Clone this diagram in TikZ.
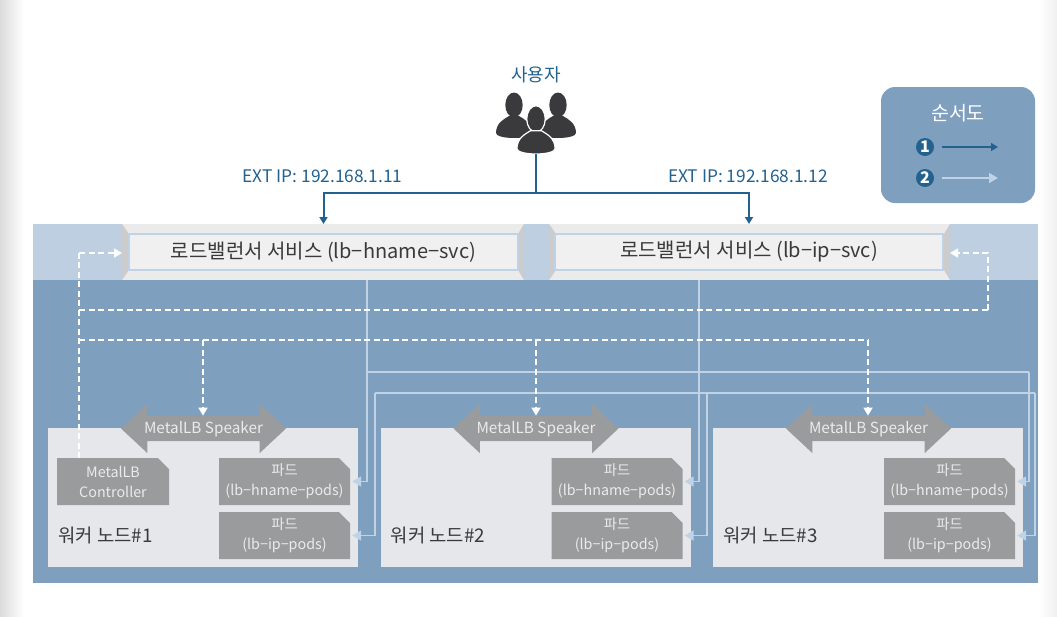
\documentclass[tikz,border=0pt]{standalone}
\usepackage{fontspec}
\setmainfont{Noto Sans CJK KR}
\usetikzlibrary{arrows.meta,shapes.arrows,shapes.misc}

\definecolor{bandblue}{HTML}{7F9FBF}
\definecolor{paleblue}{HTML}{BDCFE0}
\definecolor{lineblue}{HTML}{BFD2E6}
\definecolor{userblue}{HTML}{23628F}
\definecolor{podgray}{HTML}{9A9B9D}
\definecolor{nodegray}{HTML}{E6E7EA}
\definecolor{darktext}{HTML}{3A3A3C}

\def\personhead{(0,0) ellipse (8.7 and 12.5)}
\def\personbody{(-18,28) .. controls (-18,18) and (-10,14) .. (-5,11) -- (5,11) .. controls (10,14) and (18,18) .. (18,28) .. controls (18,31) and (10,33) .. (0,33) .. controls (-10,33) and (-18,31) .. (-18,28) -- cycle}

\tikzset{
  svcbox/.style={draw=lineblue, line width=1.5pt, fill=black!6, minimum height=36pt, inner sep=0pt, text=darktext, font=\fontsize{20}{22}\selectfont},
  workerbox/.style={fill=nodegray, minimum width=310pt, minimum height=139pt, inner sep=0pt},
  ctrlbox/.style={chamfered rectangle, chamfered rectangle corners=north east, chamfered rectangle xsep=6pt, chamfered rectangle ysep=5pt, fill=podgray, text=black!8, minimum height=47pt, inner sep=0pt, align=center, font=\fontsize{14.3}{20}\selectfont},
  podbox/.style={ctrlbox, minimum width=131pt, execute at begin node={\rule{0pt}{21pt}}},
  speakerbox/.style={double arrow, double arrow head extend=12pt, double arrow tip angle=86, minimum height=165pt, inner xsep=0pt, inner ysep=5.5pt, text height=12pt, text depth=2pt, fill=podgray, text=black!8, font=\fontsize{15.3}{17}\selectfont},
  worklabel/.style={anchor=west, inner sep=0pt, text=darktext, font=\fontsize{18.8}{21}\selectfont},
  iplabel/.style={inner sep=0pt, text=userblue, font=\fontsize{17.3}{19}\selectfont},
  numdot/.style={circle, fill=userblue, minimum size=18pt, inner sep=0pt, text=white, font=\fontsize{16}{16}\selectfont\bfseries},
  userline/.style={draw=userblue, line width=2pt},
  userarrow/.style={userline, -{Triangle[width=8pt,length=7pt]}},
  podline/.style={draw=lineblue, line width=1.8pt},
  podarrow/.style={podline, -{Triangle[width=10pt,length=9pt]}, shorten >=2pt},
  dashline/.style={draw=white, line width=1.7pt, dash pattern=on 6pt off 3.5pt},
  dasharrow/.style={dashline, -{Triangle[width=9pt,length=8pt]}}
}

\begin{document}
\begin{tikzpicture}[x=1pt,y=-1pt]
\useasboundingbox (0,0) rectangle (1057,616);
\fill[white] (0,0) rectangle (1057,616);
\shade[left color=black!14, right color=white] (0,0) rectangle (24,616);
\shade[left color=white, right color=black!6] (1038,0) rectangle (1057,616);

% bands
\fill[paleblue] (33,224) rectangle (1038,280);
\fill[bandblue] (33,280) rectangle (1038,583);
\foreach \l/\r in {122/524,549/950} {
  \fill[black!8] (\l,224) rectangle (\r,280);
  \fill[black!20] (\l,224) -- (\l+7,234) -- (\l+7,270) -- (\l,280) -- cycle;
  \fill[black!20] (\r,224) -- (\r-6,234) -- (\r-6,270) -- (\r,280) -- cycle;
}

% load balancer services
\node[svcbox, minimum width=389pt] (hnamesvc) at (323.5,252) {로드밸런서 서비스 (lb−hname−svc)};
\node[svcbox, minimum width=388pt] (ipsvc) at (749,252) {로드밸런서 서비스 (lb−ip−svc)};

% worker nodes
\foreach \n/\xx in {1/0,2/332.5,3/665} {
  \node[workerbox] (worker\n) at (203+\xx,497.5) {};
  \node[worklabel] (worklabel\n) at (58+\xx,535) {워커 노드\#\n};
  \node[speakerbox] (speaker\n) at (203.5+\xx,428.5) {MetalLB Speaker};
  \node[podbox] (hnamepod\n) at (284.5+\xx,481.5) {파드\\(lb−hname−pods)};
  \node[podbox] (ippod\n) at (284.5+\xx,535.5) {파드\\(lb−ip−pods)};
}
\node[ctrlbox, minimum width=112pt] (controller) at (113,481.5) {MetalLB\\Controller};

% user
\node[inner sep=0pt, text=userblue, font=\fontsize{18}{20}\selectfont] (usertext) at (536,75) {사용자};
\begin{scope}[fill=darktext]
  \foreach \px/\py in {514/105,558/105} {
    \begin{scope}[shift={(\px,\py)}]
      \fill \personhead;
      \fill \personbody;
    \end{scope}
  }
  \begin{scope}[shift={(536,119)}, scale=1.06]
    \filldraw[draw=white, line width=1.2pt] \personhead;
    \filldraw[draw=white, line width=1.2pt] \personbody;
  \end{scope}
\end{scope}
\coordinate (userfoot) at (536,154);
\coordinate (userjoin) at (536,193);
\draw[userline] (userfoot) -- (userjoin);
\draw[userarrow] (userjoin) -| (hnamesvc.north |- 0,224);
\draw[userarrow] (userjoin) -| (ipsvc.north |- 0,224);
\node[iplabel] (hnameip) at (322.5,176) {EXT IP: 192.168.1.11};
\node[iplabel] (ipip) at (748,176) {EXT IP: 192.168.1.12};

% legend
\node[rounded corners=14pt, fill=bandblue, minimum width=154pt, minimum height=116pt, inner sep=0pt] (legend) at (958,145) {};
\node[inner sep=0pt, text=white, font=\fontsize{19.5}{21}\selectfont] (legendtitle) at (958,113) {순서도};
\node[numdot] (legendone) at (925,147) {1};
\node[numdot] (legendtwo) at (925,178) {2};
\coordinate (legendoneend) at (998,147);
\coordinate (legendtwoend) at (998,178);
\draw[userarrow, line width=1.5pt] (legendone) ++(17,0) -- (legendoneend);
\draw[podarrow, line width=1.5pt, shorten >=0pt] (legendtwo) ++(17,0) -- (legendtwoend);

% pod connectors
\coordinate (hnamedrop) at (367,280);
\coordinate (hnamebranch) at (367,372);
\coordinate (ipdrop) at (699,280);
\coordinate (ipbranch) at (699,393);
\coordinate (hnameturn) at (1029,372);
\coordinate (ipturnone) at (375,393);
\coordinate (ipturntwo) at (707,393);
\coordinate (ipturnthree) at (1035,393);
\draw[podarrow] (hnamedrop) |- (hnamepod1.east);
\draw[podline] (hnamebranch) -- (hnameturn);
\draw[podarrow] (hnameturn) |- (hnamepod3.east);
\draw[podarrow] (ipdrop) |- (hnamepod2.east);
\draw[podline] (ipturnone) -- (ipturnthree);
\draw[podarrow] (ipturnone) |- (ippod1.east);
\draw[podarrow] (ipturntwo) |- (ippod2.east);
\draw[podarrow] (ipturnthree) |- (ippod3.east);

% speaker and controller dashes
\coordinate (ctrlfoot) at (79,458);
\coordinate (ctrlturn) at (79,253);
\coordinate (upperleft) at (79,310);
\coordinate (upperright) at (988,310);
\coordinate (lowerleft) at (79,340);
\coordinate (lowerright) at (868,340);
\coordinate (lowermid) at (536,340);
\coordinate (lowerone) at (203,340);
\draw[dashline] (ctrlfoot) -- (ctrlturn);
\draw[dasharrow] (ctrlturn) -- (122,253);
\draw[dashline] (upperleft) -- (upperright);
\draw[dasharrow] (upperright) |- (950,253);
\draw[dashline] (lowerleft) -- (lowerright);
\draw[dasharrow] (lowerone) -- (lowerone |- speaker1.north);
\draw[dasharrow] (lowermid) -- (lowermid |- speaker2.north);
\draw[dasharrow] (lowerright) -- (lowerright |- speaker3.north);
\end{tikzpicture}
\end{document}
